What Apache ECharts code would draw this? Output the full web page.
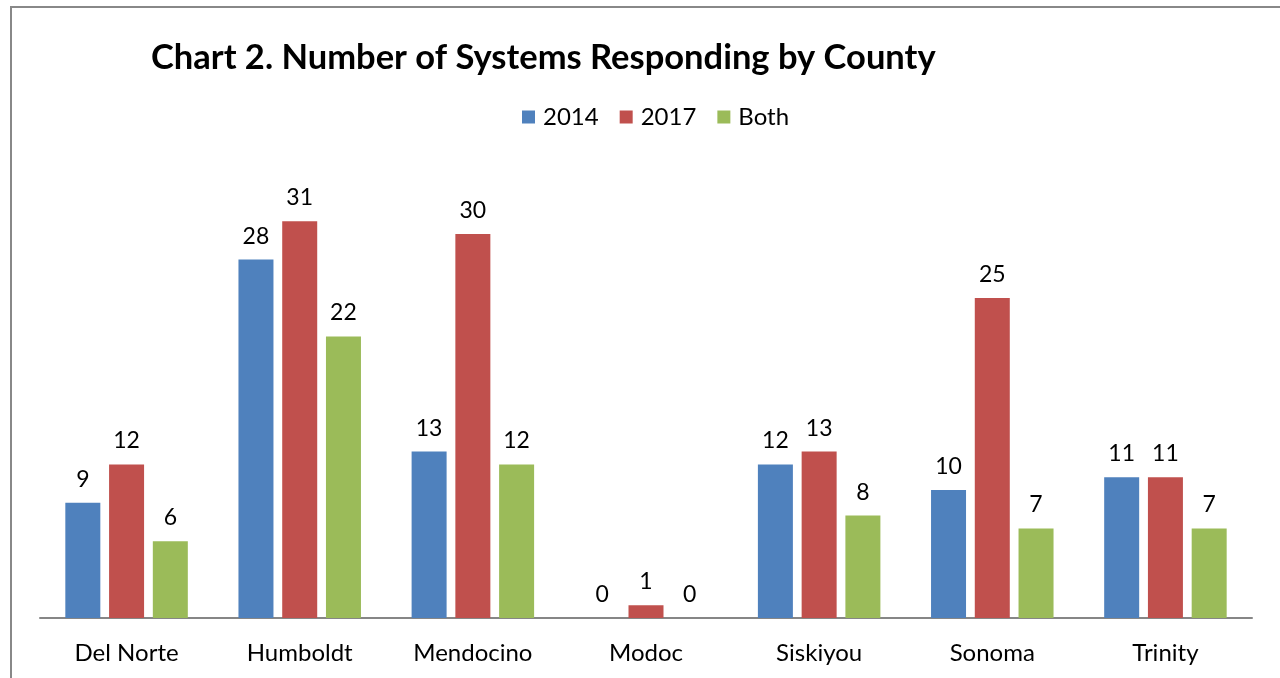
<!DOCTYPE html>
<html>
<head>
<meta charset="utf-8">
<script src="https://cdn.jsdelivr.net/npm/echarts@6/dist/echarts.min.js"></script>
<style>
  html, body { margin: 0; padding: 0; background: #fff; }
  #chart { width: 1280px; height: 678px; }
</style>
</head>
<body>
<div id="chart"></div>
<script>
const counties = ['Del Norte', 'Humboldt', 'Mendocino', 'Modoc', 'Siskiyou', 'Sonoma', 'Trinity'];
const y2014 = [9, 28, 13, 0, 12, 10, 11];
const y2017 = [12, 31, 30, 1, 13, 25, 11];
const both = [6, 22, 12, 0, 8, 7, 7];

const font = 'Lato, "Open Sans", sans-serif';
const chart = echarts.init(document.getElementById('chart'));

function bar(name, data, color) {
  return {
    name: name,
    type: 'bar',
    data: data,
    barWidth: 35,
    barGap: '25%',
    itemStyle: { color: color },
    label: {
      show: true,
      position: 'top',
      distance: 12,
      color: '#000',
      fontFamily: font,
      fontSize: 23
    }
  };
}

chart.setOption({
  animation: false,
  title: {
    text: 'Chart 2. Number of Systems Responding by County',
    left: 146,
    top: 35,
    textStyle: { fontFamily: font, fontSize: 34.5, fontWeight: 'bold', color: '#000' }
  },
  legend: {
    top: 100,
    left: 517,
    itemWidth: 13,
    itemHeight: 13,
    itemGap: 21,
    icon: 'rect',
    textStyle: { fontFamily: font, fontSize: 24, color: '#000', padding: [0, 0, 0, 3] }
  },
  graphic: [{
    type: 'rect',
    shape: { x: 11, y: 7, width: 1400, height: 800 },
    style: { fill: 'none', stroke: '#888', lineWidth: 2 },
    silent: true
  }],
  grid: { left: 40, right: 28, top: 170, bottom: 60 },
  xAxis: {
    type: 'category',
    data: counties,
    axisTick: { show: false },
    axisLine: { lineStyle: { color: '#868686', width: 2 } },
    axisLabel: { color: '#000', fontFamily: font, fontSize: 24, margin: 23 }
  },
  yAxis: {
    type: 'value',
    min: 0,
    max: 35,
    show: false
  },
  series: [
    bar('2014', y2014, '#4F81BD'),
    bar('2017', y2017, '#C0504D'),
    bar('Both', both, '#9BBB59')
  ]
});
</script>
</body>
</html>
